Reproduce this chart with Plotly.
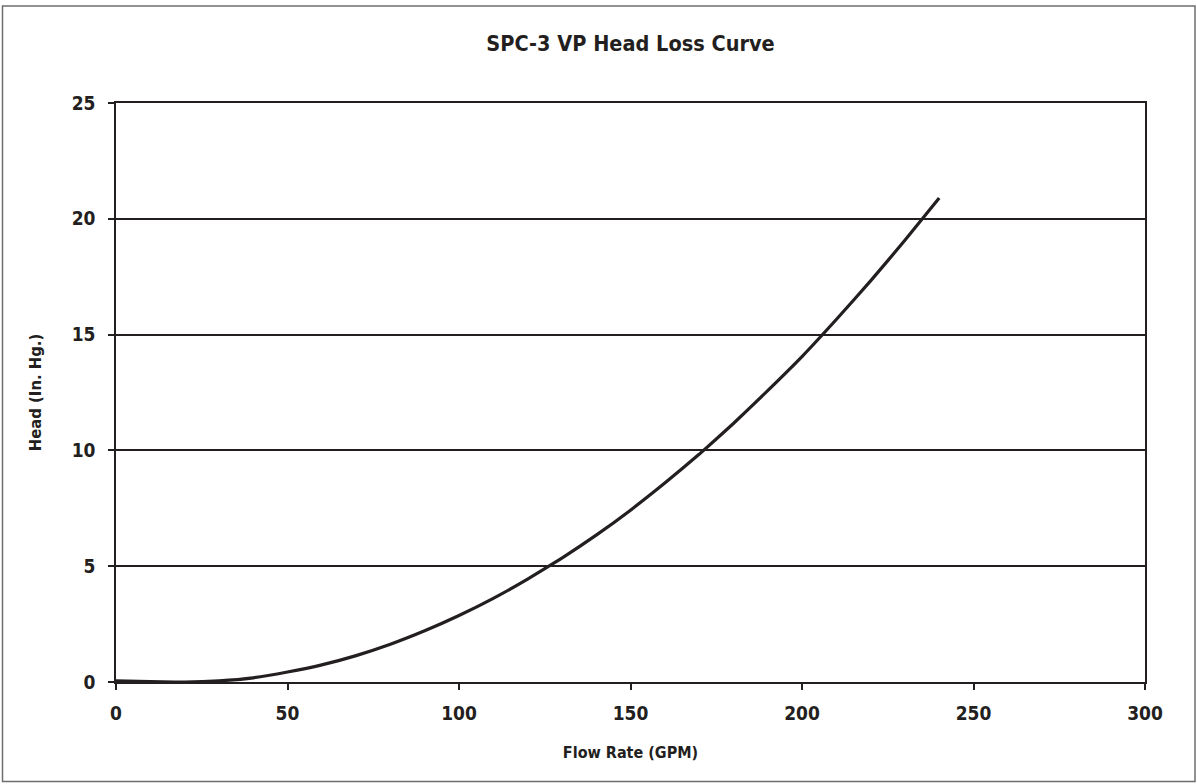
import plotly.graph_objects as go

flow_gpm = [0, 10, 20, 30, 40, 50, 60, 70, 80, 90, 100, 110, 120, 130, 140,
            150, 160, 170, 180, 190, 200, 210, 220, 230, 240]
head_inhg = [0.05, 0.02, 0.0, 0.05, 0.18, 0.43, 0.74, 1.14, 1.63, 2.21, 2.87,
             3.61, 4.44, 5.35, 6.34, 7.42, 8.59, 9.83, 11.16, 12.58, 14.05,
             15.65, 17.32, 19.07, 20.9]
x_ticks = [0, 50, 100, 150, 200, 250, 300]
y_ticks = [0, 5, 10, 15, 20, 25]

FONT = "Liberation Sans Narrow, DejaVu Sans Condensed, Arial Narrow, sans-serif"
INK = "#231f20"

fig = go.Figure()
fig.add_trace(go.Scatter(x=flow_gpm, y=head_inhg, mode="lines",
                         line=dict(color=INK, width=3.2, shape="spline", smoothing=0.4),
                         showlegend=False, hoverinfo="x+y"))

fig.update_layout(
    width=1197, height=784,
    margin=dict(l=116, r=52, t=103, b=102),
    paper_bgcolor="white", plot_bgcolor="white",
    title=dict(text="<b>SPC-3 VP Head Loss Curve</b>", x=(116 + 1145) / 2 / 1197, xanchor="center",
               y=1 - 43 / 784, yanchor="middle",
               font=dict(family=FONT, size=21.5, color=INK)),
    font=dict(family=FONT, color=INK),
    xaxis=dict(range=[0, 300], tickvals=x_ticks, ticktext=[f"<b>{v}</b>" for v in x_ticks],
               showgrid=False, zeroline=False, showline=True, linecolor=INK, linewidth=1.5,
               mirror=True, ticks="outside", ticklen=6, tickwidth=1.5, tickcolor=INK,
               tickfont=dict(family=FONT, size=19, color=INK), ticklabelstandoff=7,
               title=dict(text="<b>Flow Rate (GPM)</b>", standoff=24,
                          font=dict(family=FONT, size=16, color=INK))),
    yaxis=dict(range=[0, 25], tickvals=y_ticks, ticktext=[f"<b>{v}</b>" for v in y_ticks],
               showgrid=True, gridcolor=INK, gridwidth=1.5, zeroline=False,
               showline=True, linecolor=INK, linewidth=1.5, mirror=True,
               ticks="outside", ticklen=6, tickwidth=1.5, tickcolor=INK,
               tickfont=dict(family=FONT, size=19, color=INK), ticklabelstandoff=9,
               title=dict(text="<b>Head (In. Hg.)</b>", standoff=26,
                          font=dict(family=FONT, size=16.5, color=INK))),
)

# outer frame around the whole chart
fig.add_shape(type="rect", xref="paper", yref="paper",
              x0=(2.5 - 116) / 1029, x1=(1195 - 116) / 1029,
              y0=(681.5 - 781) / 578.5, y1=(681.5 - 6) / 578.5,
              line=dict(color="#6d6d6d", width=1.5), layer="below")

fig.write_html("out.html", config={"displayModeBar": False},
               post_script="document.body.style.margin='0';document.body.style.padding='0';")
